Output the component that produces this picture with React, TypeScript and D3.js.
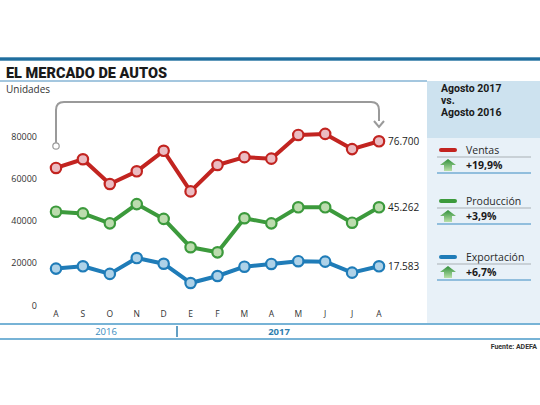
import * as d3 from "d3";

// Data
const months = ["A", "S", "O", "N", "D", "E", "F", "M", "A", "M", "J", "J", "A"];
const ventas = [64900, 69000, 57300, 63300, 73000, 53800, 66300, 70000, 69300, 80500, 81000, 73800, 77500];
const produccion = [44200, 43400, 38700, 47800, 40800, 27400, 25000, 41100, 38700, 46300, 46300, 39000, 46300];
const exportacion = [17300, 18400, 14800, 22300, 19600, 10500, 13800, 18200, 19500, 20800, 20600, 15400, 18400];
const yTicks = [0, 20000, 40000, 60000, 80000];
const lastLabels = ["76.700", "45.262", "17.583"];
const seriesNames = ["Ventas", "Producción", "Exportación"];
const changes = ["+19,9%", "+3,9%", "+6,7%"];

const FONT = "Roboto, 'DejaVu Sans', sans-serif";
const WIDE = "'Open Sans', Roboto, sans-serif";

const seriesStyle = [
  { stroke: "#c22420", fill: "#ebbcc2" },
  { stroke: "#3c9a3c", fill: "#bcdcae" },
  { stroke: "#1f7cb8", fill: "#aed2e8" },
];

export default function App() {
  const x = d3.scalePoint<number>().domain(d3.range(months.length)).range([56, 379]);
  const y = d3.scaleLinear().domain([0, 80000]).range([305.2, 136]);
  const line = d3
    .line<number>()
    .x((_, i) => x(i) as number)
    .y((d) => y(d));

  const allSeries = [ventas, produccion, exportacion];
  const legendY = [150, 201, 257];

  // bracket from first to last ventas point
  const bx0 = x(0) as number;
  const bx1 = x(months.length - 1) as number;
  const topY = 102;
  const r = 8;
  const bracket = `M${bx0},146 L${bx0},${topY + r} Q${bx0},${topY} ${bx0 + r},${topY} L${bx1 - r},${topY} Q${bx1},${topY} ${bx1},${topY + r} L${bx1},121`;

  return (
    <svg
      width={540}
      height={405}
      style={{ position: "absolute", left: 0, top: 0, background: "#fff" }}
      fontFamily={FONT}
    >
      <defs>
        <linearGradient id="arrowGrad" x1="0" y1="0" x2="0" y2="1">
          <stop offset="0" stopColor="#2f8f3a" />
          <stop offset="1" stopColor="#b8e0a8" />
        </linearGradient>
      </defs>
      <rect x={0} y={57.3} width={540} height={3.4} fill="#1f6e9e" />
      <text x={6} y={77.5} fontSize={14.5} fontWeight={900} fill="#1a1a1a" textLength={161} lengthAdjust="spacingAndGlyphs">
        EL MERCADO DE AUTOS
      </text>
      <line x1={0} x2={427} y1={81} y2={81} stroke="#4a8fbf" strokeWidth={1} />

      {/* right panel */}
      <rect x={427} y={81} width={113} height={242} fill="#e8f1f8" />
      <rect x={427} y={81} width={113} height={57} fill="#cde2ef" />
      {["Agosto 2017", "vs.", "Agosto 2016"].map((t, i) => (
        <text key={t} x={441} y={92 + i * 12} fontSize={10.5} fontWeight={700} fill="#1a1a1a">
          {t}
        </text>
      ))}
      {seriesNames.map((name, i) => {
        const ly = legendY[i];
        return (
          <g key={name}>
            <line x1={441} x2={455} y1={ly} y2={ly} stroke={seriesStyle[i].stroke} strokeWidth={4} strokeLinecap="round" />
            <text x={466} y={ly + 3.8} fontSize={10.5} fill="#2a2a2a" fontFamily={WIDE}>
              {name}
            </text>
            <line x1={437} x2={531} y1={ly + 7} y2={ly + 7} stroke="#a9b0b5" strokeWidth={1} />
            <path
              d={`M448,${ly + 9} L456,${ly + 15} L452,${ly + 15} L452,${ly + 21} L444,${ly + 21} L444,${ly + 15} L440,${ly + 15} Z`}
              fill="url(#arrowGrad)"
            />
            <text x={466} y={ly + 19} fontSize={10.5} fontWeight={700} fill="#1a1a1a" fontFamily={WIDE}>
              {changes[i]}
            </text>
            <line x1={437} x2={531} y1={ly + 23} y2={ly + 23} stroke="#3b8cc2" strokeWidth={1.2} />
          </g>
        );
      })}

      <text x={6} y={93} fontSize={10} fill="#333" fontFamily={WIDE}>
        Unidades
      </text>

      {/* y axis labels */}
      {yTicks.map((t) => (
        <text key={t} x={37} y={y(t) + 3.5} fontSize={9} textAnchor="end" fill="#333" fontFamily={WIDE}>
          {t}
        </text>
      ))}

      {/* x axis labels */}
      {months.map((m, i) => (
        <text key={i} x={x(i) as number} y={317} fontSize={8.5} textAnchor="middle" fill="#333" fontFamily={WIDE}>
          {m}
        </text>
      ))}

      {/* bracket */}
      <path d={bracket} fill="none" stroke="#9a9a9a" strokeWidth={2} />
      <path d={`M${bx1 - 5},121 L${bx1},127 L${bx1 + 5},121`} fill="none" stroke="#9a9a9a" strokeWidth={2} />
      <circle cx={bx0} cy={146} r={3.2} fill="#fff" stroke="#9a9a9a" strokeWidth={1.2} />

      {/* series */}
      {allSeries.map((s, si) => (
        <g key={si}>
          <path d={line(s) ?? ""} fill="none" stroke={seriesStyle[si].stroke} strokeWidth={4} strokeLinejoin="round" />
          {s.map((v, i) => (
            <circle key={i} cx={x(i) as number} cy={y(v)} r={5.2} fill={seriesStyle[si].fill} stroke={seriesStyle[si].stroke} strokeWidth={2.2} />
          ))}
          <text x={(x(s.length - 1) as number) + 9} y={y(s[s.length - 1]) + 3.5} fontSize={10} fill="#222" fontFamily={WIDE}>
            {lastLabels[si]}
          </text>
        </g>
      ))}

      {/* year bar */}
      <line x1={0} x2={540} y1={324} y2={324} stroke="#4a9ac8" strokeWidth={1.5} />
      <line x1={0} x2={540} y1={339} y2={339} stroke="#4a9ac8" strokeWidth={1.5} />
      <line x1={177} x2={177} y1={326} y2={337} stroke="#2f7fb0" strokeWidth={1.5} />
      <text x={106} y={335} fontSize={9.5} textAnchor="middle" fill="#3a8cc0" fontFamily={WIDE}>
        2016
      </text>
      <text x={279} y={335} fontSize={9.5} fontWeight={700} textAnchor="middle" fill="#2f7fb0" fontFamily={WIDE}>
        2017
      </text>
      <text x={537} y={349} fontSize={7} fontWeight={700} textAnchor="end" fill="#333">
        Fuente: ADEFA
      </text>
    </svg>
  );
}
